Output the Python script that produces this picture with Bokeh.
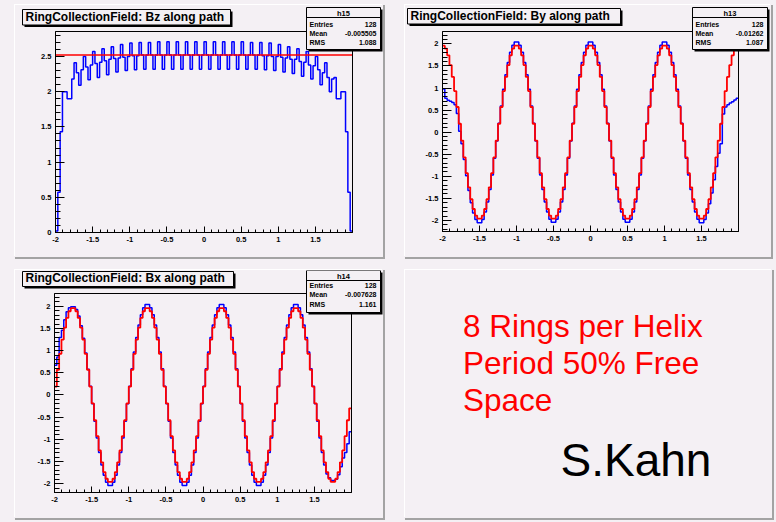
import numpy as np
from bokeh.plotting import figure
from bokeh.models import (Range1d, FixedTicker, PrintfTickFormatter, Label, BoxAnnotation,
                          LinearAxis)
from bokeh.layouts import row, column
from bokeh.embed import file_html
from bokeh.resources import INLINE

BG = "#f4f0f4"
FONT = "Liberation Sans"
# labels are anchored slightly below the requested baseline; lift them by this fraction of the size
LIFT = 0.3

# 128 equal bins along the path, from -2 to 2
X_LIM = (-2.0, 2.0)
X_EDGES = np.linspace(X_LIM[0], X_LIM[1], 129)

# Bz along path (h15) and the constant fit
BZ_HIST = [
    0.02, 0.57, 1.43, 2.00, 2.00, 1.90, 1.90, 2.18, 2.41, 2.27, 2.09, 2.31,
    2.50, 2.35, 2.17, 2.38, 2.57, 2.40, 2.20, 2.42, 2.61, 2.44, 2.24, 2.46,
    2.64, 2.47, 2.28, 2.48, 2.67, 2.49, 2.30, 2.50, 2.69, 2.51, 2.31, 2.51,
    2.70, 2.52, 2.32, 2.52, 2.70, 2.52, 2.32, 2.52, 2.71, 2.52, 2.32, 2.52,
    2.71, 2.52, 2.32, 2.52, 2.71, 2.52, 2.32, 2.52, 2.71, 2.52, 2.32, 2.52,
    2.71, 2.52, 2.32, 2.52, 2.71, 2.52, 2.32, 2.52, 2.71, 2.52, 2.32, 2.52,
    2.71, 2.52, 2.32, 2.52, 2.71, 2.52, 2.32, 2.52, 2.71, 2.52, 2.32, 2.52,
    2.70, 2.52, 2.32, 2.52, 2.70, 2.51, 2.31, 2.51, 2.69, 2.50, 2.30, 2.50,
    2.67, 2.49, 2.28, 2.48, 2.64, 2.46, 2.26, 2.46, 2.61, 2.43, 2.22, 2.42,
    2.57, 2.38, 2.18, 2.37, 2.50, 2.31, 2.10, 2.27, 2.41, 2.20, 2.00, 2.18,
    2.20, 1.90, 1.90, 2.00, 2.00, 1.43, 0.57, 0.02,
]
BZ_FIT = 2.52

# By along path (h13): computed field and reference
BY_HIST = [
    0.98, 0.77, 0.72, 0.70, 0.67, 0.62, 0.42, 0.02, -0.26, -0.62, -0.99, -1.32,
    -1.60, -1.83, -1.98, -2.05, -2.05, -1.98, -1.81, -1.58, -1.30, -0.97, -0.59, -0.20,
    0.20, 0.59, 0.97, 1.30, 1.58, 1.81, 1.97, 2.04,
    2.04, 1.97, 1.81, 1.58, 1.30, 0.97, 0.59, 0.20, -0.20, -0.59, -0.97, -1.30,
    -1.58, -1.81, -1.97, -2.04, -2.04, -1.97, -1.81, -1.58, -1.30, -0.97, -0.59, -0.20,
    0.20, 0.59, 0.97, 1.30, 1.58, 1.81, 1.97, 2.04,
    2.04, 1.97, 1.81, 1.58, 1.30, 0.97, 0.59, 0.20, -0.20, -0.59, -0.97, -1.30,
    -1.58, -1.81, -1.97, -2.04, -2.04, -1.97, -1.81, -1.58, -1.30, -0.97, -0.59, -0.20,
    0.20, 0.59, 0.97, 1.30, 1.58, 1.81, 1.97, 2.04,
    2.04, 1.97, 1.81, 1.58, 1.30, 0.97, 0.59, 0.20, -0.20, -0.59, -0.97, -1.30,
    -1.58, -1.81, -1.97, -2.05, -2.05, -1.98, -1.83, -1.62, -1.38, -1.08, -0.78, -0.48,
    -0.26, 0.41, 0.57, 0.62, 0.66, 0.69, 0.73, 0.77,
]
BY_REF = [
    1.96, 1.89, 1.74, 1.52, 1.25, 0.93, 0.57, 0.19, -0.19, -0.57, -0.93, -1.25,
    -1.52, -1.74, -1.89, -1.96, -1.96, -1.89, -1.74, -1.52, -1.25, -0.93, -0.57, -0.19,
    0.19, 0.57, 0.93, 1.25, 1.52, 1.74, 1.89, 1.96,
    1.96, 1.89, 1.74, 1.52, 1.25, 0.93, 0.57, 0.19, -0.19, -0.57, -0.93, -1.25,
    -1.52, -1.74, -1.89, -1.96, -1.96, -1.89, -1.74, -1.52, -1.25, -0.93, -0.57, -0.19,
    0.19, 0.57, 0.93, 1.25, 1.52, 1.74, 1.89, 1.96,
    1.96, 1.89, 1.74, 1.52, 1.25, 0.93, 0.57, 0.19, -0.19, -0.57, -0.93, -1.25,
    -1.52, -1.74, -1.89, -1.96, -1.96, -1.89, -1.74, -1.52, -1.25, -0.93, -0.57, -0.19,
    0.19, 0.57, 0.93, 1.25, 1.52, 1.74, 1.89, 1.96,
    1.96, 1.89, 1.74, 1.52, 1.25, 0.93, 0.57, 0.19, -0.19, -0.57, -0.93, -1.25,
    -1.52, -1.74, -1.89, -1.96, -1.96, -1.89, -1.74, -1.52, -1.25, -0.93, -0.57, -0.19,
    0.19, 0.57, 0.93, 1.25, 1.52, 1.74, 1.89, 1.96,
]

# Bx along path (h14): computed field and reference
BX_HIST = [
    0.67, 0.86, 1.30, 1.46, 1.70, 1.88, 1.97, 1.99, 1.99, 1.93, 1.78, 1.56,
    1.28, 0.95, 0.58, 0.20, -0.20, -0.59, -0.97, -1.30, -1.58, -1.81, -1.97, -2.04,
    -2.04, -1.97, -1.81, -1.58, -1.30, -0.97, -0.59, -0.20,
    0.20, 0.59, 0.97, 1.30, 1.58, 1.81, 1.97, 2.04, 2.04, 1.97, 1.81, 1.58,
    1.30, 0.97, 0.59, 0.20, -0.20, -0.59, -0.97, -1.30, -1.58, -1.81, -1.97, -2.04,
    -2.04, -1.97, -1.81, -1.58, -1.30, -0.97, -0.59, -0.20,
    0.20, 0.59, 0.97, 1.30, 1.58, 1.81, 1.97, 2.04, 2.04, 1.97, 1.81, 1.58,
    1.30, 0.97, 0.59, 0.20, -0.20, -0.59, -0.97, -1.30, -1.58, -1.81, -1.97, -2.04,
    -2.04, -1.97, -1.81, -1.58, -1.30, -0.97, -0.59, -0.20,
    0.20, 0.59, 0.97, 1.30, 1.58, 1.81, 1.97, 2.04, 2.04, 1.97, 1.81, 1.58,
    1.30, 0.97, 0.59, 0.20, -0.20, -0.59, -0.97, -1.30, -1.58, -1.78, -1.87, -1.93,
    -1.93, -1.90, -1.80, -1.62, -1.42, -1.30, -1.10, -0.83,
]
BX_REF = [
    0.19, 0.57, 0.93, 1.25, 1.52, 1.74, 1.89, 1.96, 1.96, 1.89, 1.74, 1.52,
    1.25, 0.93, 0.57, 0.19, -0.19, -0.57, -0.93, -1.25, -1.52, -1.74, -1.89, -1.96,
    -1.96, -1.89, -1.74, -1.52, -1.25, -0.93, -0.57, -0.19,
    0.19, 0.57, 0.93, 1.25, 1.52, 1.74, 1.89, 1.96, 1.96, 1.89, 1.74, 1.52,
    1.25, 0.93, 0.57, 0.19, -0.19, -0.57, -0.93, -1.25, -1.52, -1.74, -1.89, -1.96,
    -1.96, -1.89, -1.74, -1.52, -1.25, -0.93, -0.57, -0.19,
    0.19, 0.57, 0.93, 1.25, 1.52, 1.74, 1.89, 1.96, 1.96, 1.89, 1.74, 1.52,
    1.25, 0.93, 0.57, 0.19, -0.19, -0.57, -0.93, -1.25, -1.52, -1.74, -1.89, -1.96,
    -1.96, -1.89, -1.74, -1.52, -1.25, -0.93, -0.57, -0.19,
    0.19, 0.57, 0.93, 1.25, 1.52, 1.74, 1.89, 1.96, 1.96, 1.89, 1.74, 1.52,
    1.25, 0.93, 0.57, 0.19, -0.19, -0.57, -0.93, -1.25, -1.52, -1.74, -1.89, -1.96,
    -1.96, -1.89, -1.74, -1.52, -1.25, -0.93, -0.57, -0.30,
]

X_TICKS = [-2, -1.5, -1, -0.5, 0, 0.5, 1, 1.5]
X_MINOR = [round(-2 + 0.1 * i, 1) for i in range(41)]
BZ_Y_TICKS = [0, 0.5, 1, 1.5, 2, 2.5]
BZ_Y_MINOR = [round(0.1 * i, 1) for i in range(29)]
B_Y_TICKS = [-2, -1.5, -1, -0.5, 0, 0.5, 1, 1.5, 2]
B_Y_MINOR = [round(-2.2 + 0.1 * i, 1) for i in range(45)]

STATS_NAMES = ["Entries", "Mean", "RMS"]
BZ_STATS = ["128", "-0.005505", "1.088"]
BY_STATS = ["128", "-0.01262", "1.087"]
BX_STATS = ["128", "-0.007628", "1.161"]

NOTE_LINES = ["8 Rings per Helix", "Period 50% Free", "Space"]
AUTHOR = "S.Kahn"

BEVEL = {"box-shadow": "1px 1px 0px 1px #a3a3a3, -1px -1px 0px 0px #ffffff"}


class Pad:
    """A ROOT-like pad: the figure covers the whole pad, the histogram frame sits inside it."""

    def __init__(self, w, h, left, right, top, bottom, y_lim, margin, y_ticks, y_minor):
        self.w, self.h = w, h
        ymin, ymax = y_lim
        kx = (w - left - right) / (X_LIM[1] - X_LIM[0])
        ky = (h - top - bottom) / (ymax - ymin)
        x_range = Range1d(X_LIM[0] - left / kx, X_LIM[1] + right / kx)
        y_range = Range1d(ymin - bottom / ky, ymax + top / ky)
        self.p = p = figure(width=w, height=h, title=None, x_range=x_range, y_range=y_range,
                            x_axis_type=None, y_axis_type=None,
                            output_backend="svg", toolbar_location=None,
                            min_border=0, margin=margin, styles=BEVEL)
        p.background_fill_color = BG
        p.border_fill_color = BG
        p.outline_line_color = None

        xaxis = LinearAxis(fixed_location=ymin, bounds=X_LIM,
                           ticker=FixedTicker(ticks=X_TICKS, minor_ticks=X_MINOR))
        yaxis = LinearAxis(fixed_location=X_LIM[0], bounds=(ymin, ymax),
                           ticker=FixedTicker(ticks=y_ticks, minor_ticks=y_minor))
        for ax in (xaxis, yaxis):
            ax.axis_line_color = "black"
            ax.major_tick_line_color = "black"
            ax.minor_tick_line_color = "black"
            ax.major_tick_out = 0
            ax.minor_tick_out = 0
            ax.major_label_text_font = FONT
            ax.major_label_text_font_style = "bold"
            ax.major_label_text_font_size = "7.5px"
            ax.major_label_text_color = "black"
            ax.major_label_standoff = 4
            ax.formatter = PrintfTickFormatter(format="%g")
        xaxis.major_tick_in = 6
        xaxis.minor_tick_in = 3
        yaxis.major_tick_in = 9
        yaxis.minor_tick_in = 5
        p.add_layout(xaxis, "below")
        p.add_layout(yaxis, "left")

        # histogram frame
        p.add_layout(BoxAnnotation(left=X_LIM[0], right=X_LIM[1], bottom=ymin, top=ymax,
                                   fill_color=None, line_color="black", line_alpha=1.0,
                                   line_width=1))

    # pad pixel (from top-left) -> screen units of the figure
    def sy(self, y):
        return self.h - y

    def box(self, x0, y0, x1, y1, fill=BG, line="black", lw=1):
        self.p.add_layout(BoxAnnotation(
            left=x0, right=x1, top=self.sy(y0), bottom=self.sy(y1),
            left_units="screen", right_units="screen",
            top_units="screen", bottom_units="screen",
            fill_color=fill, fill_alpha=1.0,
            line_color=line, line_alpha=1.0, line_width=lw))

    def text(self, x, y, s, size, align="left"):
        self.p.add_layout(Label(
            x=x, y=self.sy(y - LIFT * size), x_units="screen", y_units="screen",
            text=s, text_font=FONT, text_font_style="bold", text_font_size=f"{size}px",
            text_color="black", text_align=align, text_baseline="alphabetic"))

    def hist(self, values, color, width=1.5):
        self.p.step(x=X_EDGES, y=list(values) + [values[-1]], mode="after",
                    line_color=color, line_width=width)

    def title_box(self, x0, y0, x1, y1, tx, ty, s):
        self.box(x0 + 2, y0 + 2, x1 + 2, y1 + 2, fill="black", line=None)
        self.box(x0, y0, x1, y1)
        self.text(tx, ty, s, 12)

    def stats_box(self, x0, y0, x1, y1, sep, name, values, rows):
        self.box(x0 + 2, y0 + 2, x1 + 2, y1 + 2, fill="black", line=None)
        self.box(x0, y0, x1, y1)
        self.box(x0, sep, x1, sep, fill=None)
        self.text((x0 + x1) / 2, rows[0], name, 7.5, align="center")
        for lab, val, yb in zip(STATS_NAMES, values, rows[1:]):
            self.text(x0 + 3, yb, lab, 7)
            self.text(x1 - 4, yb, val, 7, align="right")


# Bz panel
bz = Pad(368, 252, 40, 31, 26, 25, (0.0, 2.855), (5, 0, 0, 15), BZ_Y_TICKS, BZ_Y_MINOR)
bz.hist(BZ_HIST, "#0000ff")
bz.p.line(x=list(X_LIM), y=[BZ_FIT, BZ_FIT], line_color="#ff0000", line_width=1.5)
bz.title_box(7, 4, 215, 19.5, 10, 15.5, "RingCollectionField: Bz along path")
bz.stats_box(291, 2, 365, 44, 12, "h15", BZ_STATS, [10.5, 21, 30, 39.5])

# By panel
by = Pad(366, 252, 37, 33, 26, 26, (-2.25, 2.28), (5, 0, 0, 22), B_Y_TICKS, B_Y_MINOR)
by.hist(BY_HIST, "#0000ff")
by.hist(BY_REF, "#ff0000", 1.8)
by.title_box(2, 3, 215, 18.5, 5, 14.5, "RingCollectionField: By along path")
by.stats_box(287, 2, 362, 44, 12, "h13", BY_STATS, [10.5, 21, 30, 39.5])

# Bx panel
bx = Pad(368, 248, 39, 32, 23, 26, (-2.2, 2.29), (13, 0, 0, 15), B_Y_TICKS, B_Y_MINOR)
bx.hist(BX_HIST, "#0000ff")
bx.hist(BX_REF, "#ff0000", 1.8)
bx.title_box(7, 1, 218, 16, 10, 11.5, "RingCollectionField: Bx along path")
bx.stats_box(291, 0, 365, 42, 10, "h14", BX_STATS, [8, 17.5, 26.5, 36])

# Note panel: pixel coordinates, y counted down from the top of the pad
NOTE_W, NOTE_H = 367, 248
note = figure(width=NOTE_W, height=NOTE_H, title=None,
              x_range=Range1d(0, NOTE_W), y_range=Range1d(NOTE_H, 0),
              x_axis_type=None, y_axis_type=None, output_backend="svg",
              toolbar_location=None, min_border=0, margin=(13, 0, 0, 22), styles=BEVEL)
note.background_fill_color = BG
note.border_fill_color = BG
note.outline_line_color = None
note.grid.visible = False
NOTE_SIZE, AUTHOR_SIZE = 31.5, 46
for line, yb in zip(NOTE_LINES, [65, 101.5, 139]):
    note.add_layout(Label(x=57.5, y=yb - LIFT * NOTE_SIZE, text=line,
                          text_font=FONT, text_font_size=f"{NOTE_SIZE}px", text_color="#ff0000",
                          text_baseline="alphabetic"))
note.add_layout(Label(x=155, y=203.5 - LIFT * AUTHOR_SIZE, text=AUTHOR,
                      text_font=FONT, text_font_size=f"{AUTHOR_SIZE}px", text_color="black",
                      text_baseline="alphabetic"))

p = column(row(bz.p, by.p), row(bx.p, note), width=776, height=522,
           styles={"background-color": BG})

open("out.html", "w").write(file_html(p, INLINE))
